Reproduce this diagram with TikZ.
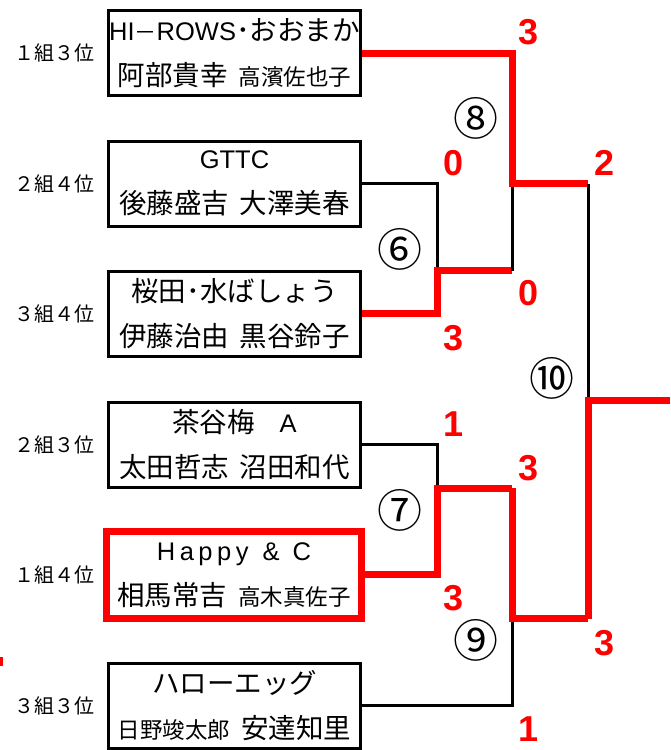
\documentclass[tikz,border=0pt]{standalone}
\usepackage{fontspec}
\setmainfont{Noto Sans CJK JP}
\newfontfamily\lat{Liberation Sans}
\newfontfamily\scorefont{Liberation Sans}
\newcommand{\sm}{\fontsize{22.5}{24}\selectfont}
\newcommand{\latin}{\lat\fontsize{25.5}{45}\selectfont}
\begin{document}
\begin{tikzpicture}[x=1pt,y=-1pt,
  team/.style={draw=black,line width=3pt,minimum width=252pt,minimum height=85pt,inner sep=0pt,align=center,
    font=\fontsize{27.5}{45}\selectfont},
  winbox/.style={team,draw=red,line width=7pt,minimum width=255pt,minimum height=87pt},
  grp/.style={font=\fontsize{20}{20}\selectfont,inner sep=0pt},
  score/.style={text=red,font=\scorefont\bfseries\fontsize{36}{40}\selectfont,inner sep=0pt},
  matchno/.style={font=\fontsize{45}{48}\selectfont,inner sep=0pt},
  lose/.style={draw=black,line width=3pt},
  win/.style={draw=red,line width=7pt,line join=miter}]
\useasboundingbox (0,0) rectangle (670,750);
\fill[white] (0,0) rectangle (670,750);
% teams
\node[team] (t1) at (234.5,53) {{\latin HI}{\fontsize{22}{45}\selectfont －}{\latin ROWS}･おおまか\\阿部貴幸\hspace{.4em}{\sm 高濱佐也子}};
\node[team] (t2) at (234.5,183.5) {{\latin GTTC}\\後藤盛吉\hspace{.4em}大澤美春};
\node[team] (t3) at (234.5,313.5) {桜田･水ばしょう\\伊藤治由\hspace{.4em}黒谷鈴子};
\node[team] (t4) at (234.5,444.5) {茶谷梅\hspace{.9em}{\latin A}\\太田哲志\hspace{.4em}沼田和代};
\node[winbox] (t5) at (234,575) {{\latin H\kern4.5pt a\kern4.5pt p\kern4.5pt p\kern4.5pt y\hspace{14pt}\&\hspace{13pt}C}\\相馬常吉\hspace{.4em}{\sm 高木真佐子}};
\node[team] (t6) at (234.5,705.5) {ハローエッグ\\{\sm 日野竣太郎}\hspace{.4em}安達知里};
% group labels
\node[grp] (g1) at (54,53) {１組３位};
\node[grp] (g2) at (54,183.5) {２組４位};
\node[grp] (g3) at (54,313.5) {３組４位};
\node[grp] (g4) at (54,444.5) {２組３位};
\node[grp] (g5) at (54,575) {１組４位};
\node[grp] (g6) at (54,705.5) {３組３位};
% junction coordinates
\coordinate (m6) at (437,270.5);
\coordinate (m7) at (437,488);
\coordinate (m8) at (512,183.5);
\coordinate (m9) at (512,618.5);
\coordinate (m10) at (588,400.5);
\coordinate (champ) at (670,400.5);
% match 6
\draw[lose] (t2.east |- 0,183.5) -| (m6);
\draw[win] (t3.east |- 0,313.5) -| (m6) -- (m8 |- m6);
% match 7
\draw[lose] (t4.east |- 0,444.5) -| (m7);
\draw[win] ([xshift=-3.5pt]t5.east |- 0,574) -| (m7) -- (m8 |- m7);
% match 8
\draw[lose] (m8 |- m6) -- (m8);
\draw[win] (t1.east |- 0,53) -| (m8) -- (m10 |- m8);
% match 9
\draw[lose] (t6.east |- 0,705.5) -| (m9);
\draw[win] (m8 |- m7) -- (m9) -- (m10 |- m9);
% match 10
\draw[lose] (m10 |- m8) -- (m10);
\draw[win] (m10 |- m9) -- (m10) -- (champ);
% stray mark
\fill[red] (0,657) rectangle (2.5,666);
% match numbers
\node[matchno] (n6) at (400,249) {⑥};
\node[matchno] (n7) at (400,510) {⑦};
\node[matchno] (n8) at (475.5,118) {⑧};
\node[matchno] (n9) at (476,640) {⑨};
\node[matchno] (n10) at (552,378) {⑩};
% scores
\node[score] (s1) at (529,32) {3};
\node[score] (s2) at (454,163) {0};
\node[score] (s3) at (454,338) {3};
\node[score] (s8b) at (529,293) {0};
\node[score] (s8) at (605,163) {2};
\node[score] (s4) at (454,424) {1};
\node[score] (s7) at (529,468) {3};
\node[score] (s5) at (454,598) {3};
\node[score] (s9) at (605,643) {3};
\node[score] (s6) at (529,729) {1};
\end{tikzpicture}
\end{document}
